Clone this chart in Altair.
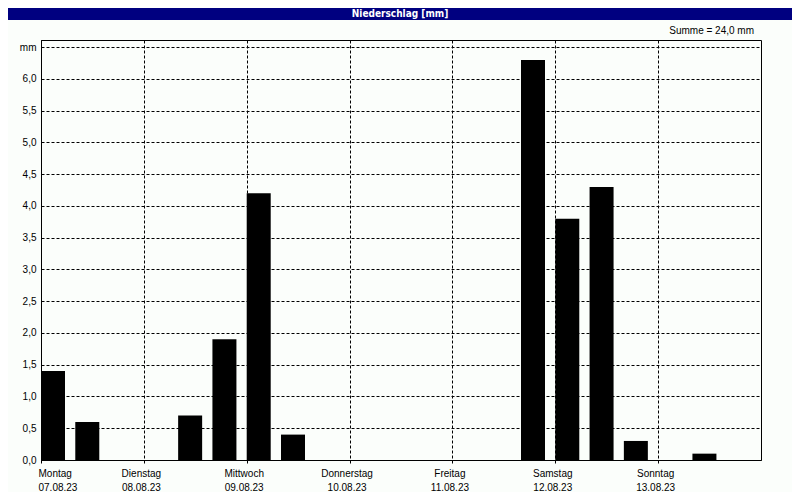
import json
import altair as alt
import pandas as pd

# 8-hour precipitation totals, Mon 07.08.23 00:00 .. Sun 13.08.23 24:00
bin_start_hours = [0, 8, 16, 24, 32, 40, 48, 56, 64, 72, 80, 88, 96, 104,
                   112, 120, 128, 136, 144, 152, 160]
precip_mm = [1.4, 0.6, 0.0, 0.0, 0.7, 1.9, 4.2, 0.4, 0.0, 0.0, 0.0, 0.0, 0.0, 0.0,
             6.3, 3.8, 4.3, 0.3, 0.0, 0.1, 0.0]
day_names = ["Montag", "Dienstag", "Mittwoch", "Donnerstag", "Freitag", "Samstag", "Sonntag"]
day_dates = ["07.08.23", "08.08.23", "09.08.23", "10.08.23", "11.08.23", "12.08.23", "13.08.23"]
y_ticks = [0.0, 0.5, 1.0, 1.5, 2.0, 2.5, 3.0, 3.5, 4.0, 4.5, 5.0, 5.5, 6.0, 6.5]
title_text = "Niederschlag [mm]"

total = sum(precip_mm)
summe_text = "Summe = " + f"{total:.1f}".replace(".", ",") + " mm"

df = pd.DataFrame({"start": bin_start_hours, "mm": precip_mm})
df = df[df["mm"] > 0]

FONT = "Liberation Sans"
NAVY = "#000080"
BG = "#FBFEFB"

x_scale = alt.Scale(domain=[0, 168], nice=False, zero=False)
y_scale = alt.Scale(domain=[0, 6.614], nice=False, zero=True)

x_label_expr = (
    f"[{json.dumps(day_names)}[round(datum.value/24)], "
    f"{json.dumps(day_dates)}[round(datum.value/24)]]"
)
y_label_expr = "datum.value >= 6.5 ? 'mm' : replace(format(datum.value, '.1f'), '.', ',')"

bars = alt.Chart(df).mark_bar(color="black").transform_calculate(
    end="datum.start + 5.6", base="0"
).encode(
    x=alt.X("start:Q", scale=x_scale,
            axis=alt.Axis(values=[0, 24, 48, 72, 96, 120, 144], title=None,
                          grid=True, gridDash=[3, 2], gridColor="black", gridOpacity=1,
                          domainColor="black", tickColor="black", tickSize=3,
                          labelExpr=x_label_expr, labelLineHeight=14,
                          labelPadding=5, labelOffset=-3, labelFont=FONT,
                          labelFontSize=10, labelColor="black")),
    x2="end:Q",
    y=alt.Y("mm:Q", scale=y_scale,
            axis=alt.Axis(values=y_ticks, title=None, grid=True, gridDash=[3, 2],
                          gridColor="black", gridOpacity=1, ticks=False,
                          domainColor="black", labelExpr=y_label_expr,
                          labelPadding=5, labelFont=FONT, labelFontSize=10,
                          labelColor="black")),
    y2="base:Q",
)

one = pd.DataFrame({"title": [title_text], "summe": [summe_text]})

title_bar = alt.Chart(one).mark_rect(color=NAVY).encode(
    x=alt.value(-33), x2=alt.value(751), y=alt.value(-32), y2=alt.value(-20)
)

title = alt.Chart(one).mark_text(
    color="white", fontWeight="bold", font="Liberation Sans Narrow, DejaVu Sans Condensed, Liberation Sans",
    fontSize=10, align="center", baseline="middle"
).encode(text="title:N", x=alt.value(359), y=alt.value(-26))

summe = alt.Chart(one).mark_text(
    color="black", font=FONT, fontSize=10, align="right", baseline="middle"
).encode(text="summe:N", x=alt.value(713), y=alt.value(-9))

chart = alt.layer(bars, title_bar, title, summe).properties(
    width=720, height=420,
    autosize=alt.AutoSizeParams(type="none"),
    padding={"left": 33, "top": 32, "right": 31, "bottom": 32},
    background=BG,
).configure_view(stroke="black", strokeWidth=1)

chart.save("out.html", embed_options={"renderer": "svg", "actions": False})
